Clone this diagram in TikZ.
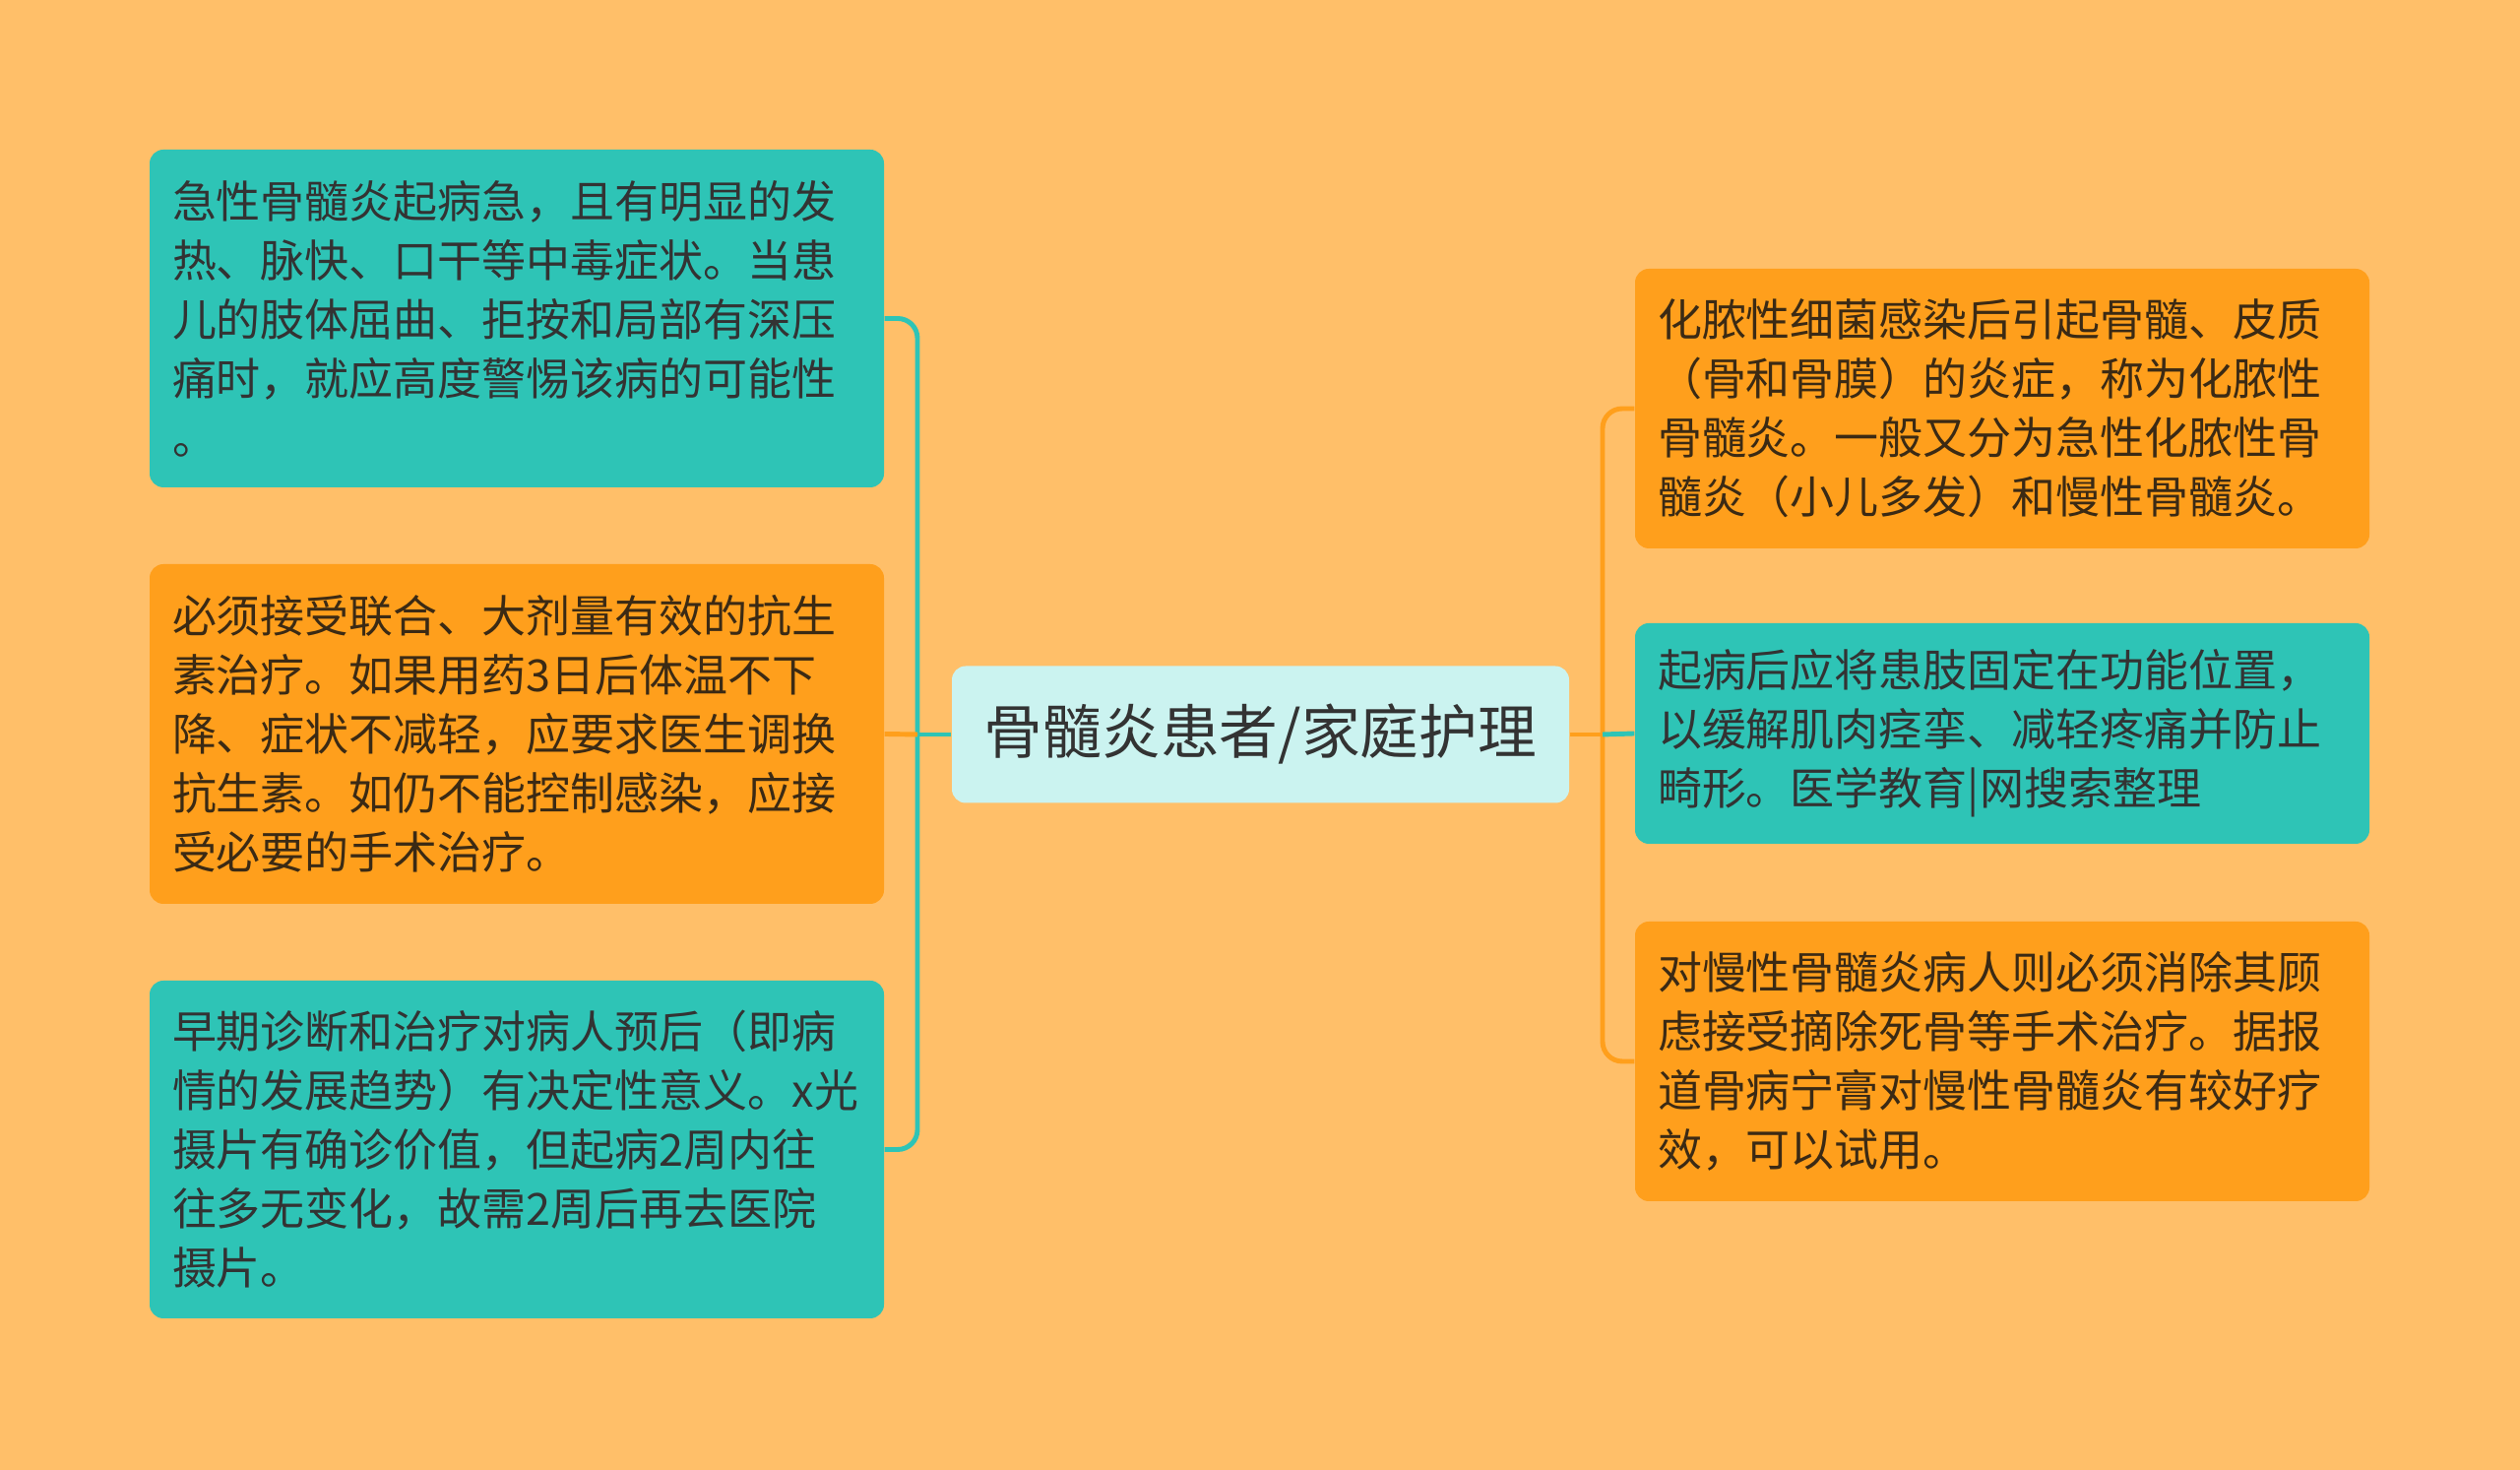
\documentclass[tikz,border=0pt]{standalone}
\usepackage{fontspec}
\setmainfont{Noto Sans CJK SC}
\usepackage{tikz}
\usepackage{xcolor}
\definecolor{fondo}{HTML}{FFBF69}
\definecolor{verde}{HTML}{2EC4B6}
\definecolor{naranja}{HTML}{FF9F1C}
\definecolor{celeste}{HTML}{CBF3F0}
\definecolor{tinta}{HTML}{333333}
\definecolor{tintanar}{HTML}{3B2A14}

\begin{document}
\begin{tikzpicture}[
  hoja/.style={rounded corners=0.14cm,text width=7.0cm,align=left,
    inner xsep=0.23cm,inner ysep=0.2cm,font=\fontsize{12.8}{17.07}\selectfont},
  hojaverde/.style={hoja,fill=verde,text=tinta},
  hojanar/.style={hoja,fill=naranja,text=tintanar},
  rama/.style={line width=1.4pt,rounded corners=0.2cm}]
  % Ventana
  \def\ancho{25.6}
  \def\alto{14.93}
  \def\xizq{5.25}
  \def\xder{20.34}

  % Fondo
  \fill[fondo] (0,0) rectangle (\ancho,\alto);
  \useasboundingbox (0,0) rectangle (\ancho,\alto);

  % Nodo central
  \node[fill=celeste,text=tinta,rounded corners=0.14cm,minimum width=6.27cm,
    minimum height=1.39cm,font=\fontsize{17}{20}\selectfont] (raiz) at (12.805,7.47)
    {骨髓炎患者/家庭护理};

  % Hojas a la izquierda
  \node[hojaverde,minimum height=3.43cm] (l1) at (\xizq,11.695)
    {急性骨髓炎起病急，且有明显的发\\热、脉快、口干等中毒症状。当患\\儿的肢体屈曲、拒按和局部有深压\\痛时，就应高度警惕该病的可能性\\。};
  \node[hojanar,minimum height=3.45cm] (l2) at (\xizq,7.475)
    {必须接受联合、大剂量有效的抗生\\素治疗。如果用药3日后体温不下\\降、症状不减轻，应要求医生调换\\抗生素。如仍不能控制感染，应接\\受必要的手术治疗。};
  \node[hojaverde,minimum height=3.43cm] (l3) at (\xizq,3.255)
    {早期诊断和治疗对病人预后（即病\\情的发展趋势）有决定性意义。x光\\摄片有确诊价值，但起病2周内往\\往多无变化，故需2周后再去医院\\摄片。};

  % Hojas a la derecha
  \node[hojanar,minimum height=2.84cm] (r1) at (\xder,10.78)
    {化脓性细菌感染后引起骨髓、皮质\\（骨和骨膜）的炎症，称为化脓性\\骨髓炎。一般又分为急性化脓性骨\\髓炎（小儿多发）和慢性骨髓炎。};
  \node[hojaverde,minimum height=2.24cm] (r2) at (\xder,7.48)
    {起病后应将患肢固定在功能位置，\\以缓解肌肉痉挛、减轻疼痛并防止\\畸形。医学教育|网搜索整理};
  \node[hojanar,minimum height=2.84cm] (r3) at (\xder,4.15)
    {对慢性骨髓炎病人则必须消除其顾\\虑接受摘除死骨等手术治疗。据报\\道骨病宁膏对慢性骨髓炎有较好疗\\效，可以试用。};

  % Conectores
  \coordinate (jl) at (9.32,7.47);
  \coordinate (jr) at (16.28,7.47);
  \draw[rama,verde] (raiz.west) -- (jl);
  \draw[rama,verde] (jl) |- (l1.east);
  \draw[rama,verde] (jl) |- (l3.east);
  \draw[rama,naranja] (jl) -- (l2.east);
  \draw[rama,naranja] (raiz.east) -- (jr);
  \draw[rama,naranja] (jr) |- (r1.west);
  \draw[rama,naranja] (jr) |- (r3.west);
  \draw[rama,verde] (jr) -- (r2.west);
\end{tikzpicture}
\end{document}
